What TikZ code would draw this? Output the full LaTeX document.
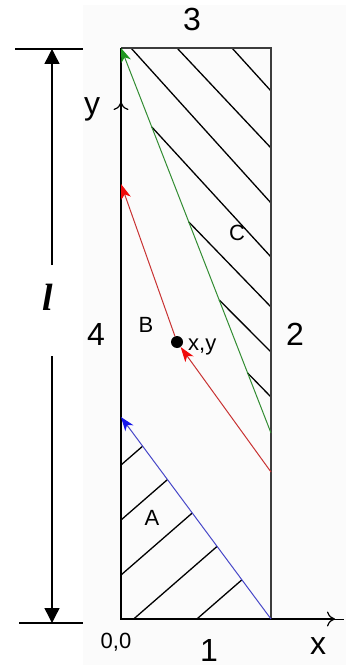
\documentclass[tikz,border=0pt]{standalone}
\usepackage{fontspec}
\setmainfont{Liberation Sans}
\newfontfamily\lserif{Liberation Serif}
\usetikzlibrary{arrows.meta,calc}
\definecolor{myblue}{RGB}{70,70,200}
\definecolor{tipblue}{RGB}{20,20,235}
\definecolor{myred}{RGB}{200,50,50}
\definecolor{tipred}{RGB}{240,10,10}
\definecolor{mygreen}{RGB}{50,140,50}
\definecolor{tipgreen}{RGB}{30,150,30}
\definecolor{edge}{RGB}{60,60,60}
\tikzset{
  big/.style={font=\fontsize{32}{36}\selectfont, inner sep=0pt},
  mid/.style={font=\fontsize{22}{26}\selectfont, inner sep=0pt},
  hatch/.style={line width=1.3pt, black},
  rectedge/.style={line width=1.4pt, edge},
  axisline/.style={line width=2.4pt, black},
  dimline/.style={line width=1.4pt, black},
  dimtip/.style={-{Triangle[length=15pt,width=15pt]}},
  chara/.style={line width=1pt},
  axtip/.style={line width=1.2pt, -{To[length=8pt,width=15pt]}},
}
\begin{document}
\begin{tikzpicture}[x=1pt,y=-1pt]
\useasboundingbox (0,0) rectangle (354,668);
\fill[black!1.5] (83,5) rectangle (346,665);
% named points
\coordinate (O) at (121,619);
\coordinate (R) at (271,619);
\coordinate (TR) at (271,48);
\coordinate (TL) at (121,48);
\coordinate (bA) at (121,417);
\coordinate (gS) at (271,433);
\coordinate (rS) at (271,472);
\coordinate (rT) at (121,184);
\coordinate (yarr) at (121,102);
\coordinate (yarr0) at (121,115);
\coordinate (xarr) at (335,619);
\coordinate (xend) at (344,619);
% hatch A
\begin{scope}
\clip (O) -- (R) -- (bA) -- cycle;
\foreach \c in {465,520,575,630,685}
  \draw[hatch] (121,\c) -- (321,\c-174);
\end{scope}
% hatch C
\draw[hatch] (232,48) -- (271,91);
\draw[hatch] (177,48) -- (271,148);
\draw[hatch] (131,48) -- (271,203);
\draw[hatch] (151.8,127) -- (271,257);
\draw[hatch] (188.8,222) -- (271,307);
\draw[hatch] (219.2,300) -- (271,352);
\draw[hatch] (247.6,373) -- (271,397);
% rectangle
\draw[rectedge] (TL) -- (TR) -- (R);
\draw[axisline] (TL) -- (O) -- (R);
\draw[line width=1pt] (R) -- (xend);
\draw[axtip] (R) -- (xarr);
\draw[axtip] (yarr0) -- (yarr);
% characteristics
\node[circle, fill=black, inner sep=0pt, minimum size=12pt] (P) at (177,342) {};
\draw[chara, myblue, -{Stealth[length=14pt,width=10pt,inset=4pt,color=tipblue]}] (R) -- (bA);
\draw[chara, mygreen, -{Stealth[length=14pt,width=10pt,inset=4pt,color=tipgreen]}] (gS) -- (TL);
\draw[chara, myred, -{Stealth[length=15pt,width=10pt,inset=4pt,color=tipred]}] (rS) -- (P);
\draw[chara, myred, -{Stealth[length=15pt,width=10pt,inset=4pt,color=tipred]}] (P) -- (rT);
% dimension
\coordinate (dT) at (52,49);
\coordinate (dB) at (52,623);
\coordinate (dG1) at (52,265);
\coordinate (dG2) at (52,356);
\coordinate (dTL) at (15,49);
\coordinate (dTR) at (83,49);
\coordinate (dBL) at (19,623);
\coordinate (dBR) at (83,623);
\draw[dimline] (dTL) -- (dTR);
\draw[dimline] (dBL) -- (dBR);
\draw[dimline, dimtip] (dG1) -- (dT);
\draw[dimline, dimtip] (dG2) -- (dB);
% labels
\node[font=\lserif\bfseries\itshape\fontsize{38}{40}\selectfont, inner sep=0pt] (lab-l) at (48,297) {l};
\node[big] (lab3) at (192,19) {3};
\node[big] (lab4) at (96,334) {4};
\node[big] (lab2) at (295,334) {2};
\node[big] (lab1) at (209,650) {1};
\node[big] (labx) at (318,646) {x};
\node[big, anchor=base] (laby) at (92,115) {y};
\node[mid] (lab00) at (116,642) {0,0};
\node[mid] (labA) at (152,518) {A};
\node[mid] (labB) at (146,325) {B};
\node[mid] (labC) at (237,233) {C};
\node[mid, anchor=base west] (labxy) at (188,350) {x,y};
\end{tikzpicture}
\end{document}
